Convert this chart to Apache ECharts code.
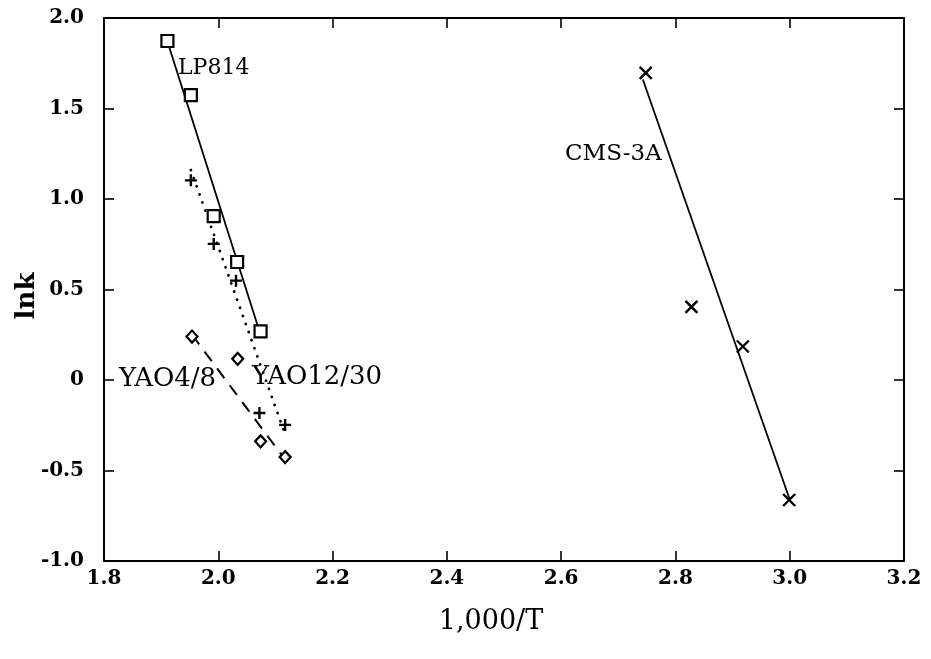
<!DOCTYPE html>
<html><head><meta charset="utf-8">
<script src="https://cdn.jsdelivr.net/npm/echarts@6/dist/echarts.min.js"></script>
<style>html,body{margin:0;padding:0;background:#fff}#c{width:931px;height:659px}</style>
</head><body><div id="c"></div>
<script>
// ---- data ----
const lp814X = [1.911, 1.952, 1.992, 2.033, 2.074];
const lp814Y = [1.873, 1.574, 0.905, 0.652, 0.269];
const lp814FitX = [1.911, 2.074];
const lp814FitY = [1.87, 0.25];

const yao1230X = [1.952, 1.992, 2.031, 2.072, 2.117];
const yao1230Y = [1.103, 0.752, 0.549, -0.182, -0.248];
const yao1230FitX = [1.952, 2.117];
const yao1230FitY = [1.16, -0.30];

const yao48X = [1.954, 2.034, 2.074, 2.117];
const yao48Y = [0.240, 0.117, -0.339, -0.426];
const yao48FitX = [1.954, 2.117];
const yao48FitY = [0.25, -0.44];

const cmsX = [2.748, 2.828, 2.918, 2.999];
const cmsY = [1.697, 0.404, 0.185, -0.663];
const cmsFitX = [2.743, 3.0];
const cmsFitY = [1.66, -0.66];

const seriesLabels = ['LP814', 'YAO12/30', 'YAO4/8', 'CMS-3A'];
const xTitle = '1,000/T';
const yTitle = 'lnk';

// ---- build ----
const zip = (a, b) => a.map((v, i) => [v, b[i]]);
const FONT = '"DejaVu Serif", "Liberation Serif", serif';
const plusPath = 'path://M0,6L12,6M6,0L6,12';
const crossPath = 'path://M0,0L12,12M12,0L0,12';

const fitLine = (x, y, type, width, cap) => ({
  type: 'line', data: zip(x, y), symbol: 'none', silent: true, z: 2,
  lineStyle: { color: '#000', width: width, type: type, cap: cap || 'butt' }
});
const pts = (x, y, symbol, size, fill, bw) => ({
  type: 'scatter', data: zip(x, y), symbol: symbol, symbolSize: size, z: 5,
  itemStyle: { color: fill, borderColor: '#000', borderWidth: bw, opacity: 1 }
});

const axisCommon = {
  type: 'value',
  axisLine: { show: true, onZero: false, lineStyle: { color: '#000', width: 2 } },
  axisTick: { show: true, inside: true, length: 10, lineStyle: { color: '#000', width: 1.6 } },
  splitLine: { show: false }
};

const txt = (x, y, s, font, align) => ({
  type: 'text', x: x, y: y,
  style: { text: s, font: font, fill: '#000', textAlign: align, textVerticalAlign: 'middle', align: align, verticalAlign: 'middle' }
});

const chart = echarts.init(document.getElementById('c'), null, { renderer: 'canvas' });
chart.setOption({
  animation: false,
  backgroundColor: '#fff',
  grid: { left: 104, right: 27, top: 18, bottom: 98 },
  xAxis: [
    Object.assign({}, axisCommon, {
      position: 'bottom', min: 1.8, max: 3.2, interval: 0.2,
      axisLabel: { margin: 8, color: '#000', fontFamily: FONT, fontWeight: 'bold', fontSize: 20,
        formatter: v => v.toFixed(1) }
    }),
    Object.assign({}, axisCommon, {
      position: 'top', min: 1.8, max: 3.2, interval: 0.2, axisLabel: { show: false }
    })
  ],
  yAxis: [
    Object.assign({}, axisCommon, {
      position: 'left', min: -1, max: 2, interval: 0.5,
      axisLabel: { margin: 20, color: '#000', fontFamily: FONT, fontWeight: 'bold', fontSize: 20,
        formatter: v => (Math.abs(v) < 1e-9 ? '0' : v.toFixed(1)) }
    }),
    Object.assign({}, axisCommon, {
      position: 'right', min: -1, max: 2, interval: 0.5, axisLabel: { show: false }
    })
  ],
  series: [
    fitLine(lp814FitX, lp814FitY, 'solid', 1.8),
    fitLine(yao1230FitX, yao1230FitY, [0.1, 8.5], 2.8, 'round'),
    fitLine(yao48FitX, yao48FitY, [12, 9], 2),
    fitLine(cmsFitX, cmsFitY, 'solid', 1.8),
    pts(lp814X, lp814Y, 'rect', 12, '#fff', 2.2),
    pts(yao1230X, yao1230Y, plusPath, 12, 'none', 2.4),
    pts(yao48X, yao48Y, 'diamond', [11, 12], '#fff', 2.2),
    pts(cmsX, cmsY, crossPath, 12, 'none', 2.4)
  ],
  graphic: [
    txt(178, 68, seriesLabels[0], '22px ' + FONT, 'left'),
    txt(252, 377, seriesLabels[1], '26px ' + FONT, 'left'),
    txt(119, 379, seriesLabels[2], '26px ' + FONT, 'left'),
    txt(565, 154, seriesLabels[3], '23px ' + FONT, 'left'),
    txt(491, 622, xTitle, '27px ' + FONT, 'center'),
    Object.assign(txt(27, 296, yTitle, 'bold 26px ' + FONT, 'center'), { rotation: Math.PI / 2 })
  ]
});
</script>
</body></html>
